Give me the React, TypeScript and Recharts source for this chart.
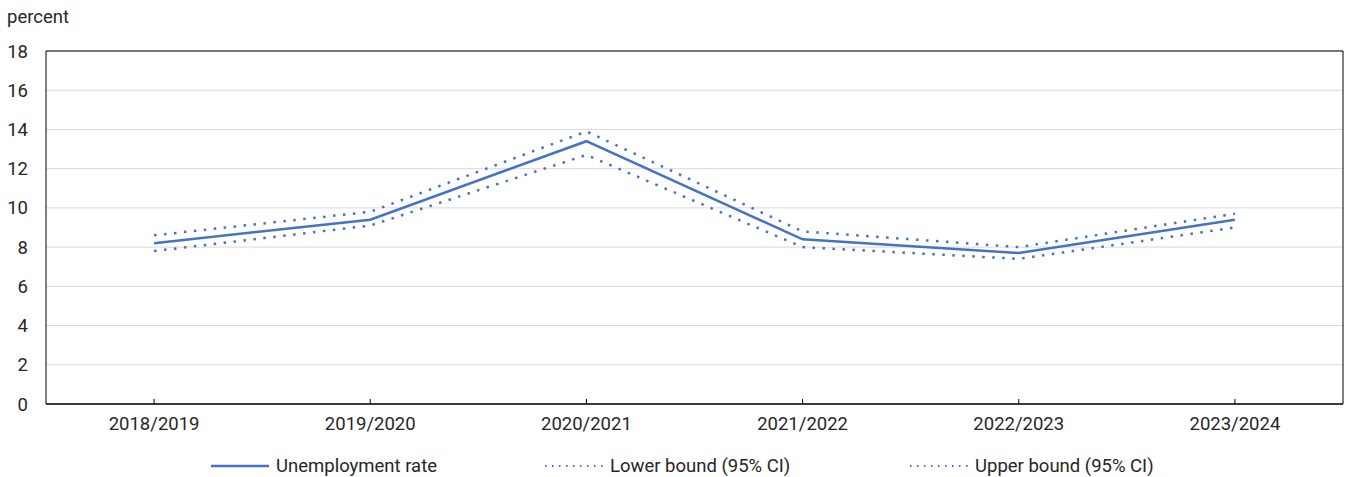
import React from 'react';
import { LineChart, Line, XAxis, YAxis, CartesianGrid, ReferenceArea } from 'recharts';

const categories = ['2018/2019', '2019/2020', '2020/2021', '2021/2022', '2022/2023', '2023/2024'];
const unemployment = [8.2, 9.4, 13.4, 8.4, 7.7, 9.4];
const lowerBound = [7.8, 9.1, 12.7, 8.0, 7.4, 9.0];
const upperBound = [8.6, 9.8, 13.9, 8.8, 8.0, 9.7];
const yTicks = [0, 2, 4, 6, 8, 10, 12, 14, 16, 18];

const data = categories.map((name, i) => ({
  name,
  rate: unemployment[i],
  lower: lowerBound[i],
  upper: upperBound[i],
}));

const BLUE = '#4472C4';
const FONT = 'Roboto, "Noto Sans", sans-serif';
const TEXT = '#262626';
const FS = 18.5;

const XTick = (props: any) => {
  const { x, y, payload } = props;
  return (
    <g>
      <line x1={x} x2={x} y1={y - 12} y2={y - 17} stroke="#000" strokeWidth={1} />
      <text x={x} y={y} dy="0.75em" textAnchor="middle" fill={TEXT} fontSize={FS} fontFamily={FONT}>
        {payload.value}
      </text>
    </g>
  );
};

const legendItems = [
  { label: 'Unemployment rate', left: 211, dash: undefined },
  { label: 'Lower bound (95% CI)', left: 545, dash: '1.5 5.5' },
  { label: 'Upper bound (95% CI)', left: 910, dash: '1.5 5.5' },
];

export default function App() {
  return (
    <div style={{ position: 'absolute', left: 0, top: 0, width: 1346, height: 477, background: '#fff', fontFamily: FONT }}>
      <div style={{ position: 'absolute', left: 7, top: 6, fontSize: FS, color: TEXT }}>percent</div>
      <LineChart width={1346} height={477} data={data} margin={{ top: 51, right: 3, bottom: 43, left: 6 }}>
        <CartesianGrid horizontal vertical={false} stroke="#d9d9d9" />
        <XAxis
          dataKey="name"
          scale="band"
          axisLine={{ stroke: '#000' }}
          tickLine={false}
          tickSize={0}
          tickMargin={12}
          height={30}
          tick={<XTick />}
          interval={0}
        />
        <YAxis
          domain={[0, 18]}
          ticks={yTicks}
          width={40}
          axisLine={false}
          tickLine={false}
          tickSize={0}
          tickMargin={18}
          tick={{ fontSize: FS, fill: TEXT, fontFamily: FONT }}
        />
        <ReferenceArea y1={0} y2={18} fill="none" stroke="#000" strokeWidth={1} />
        <Line dataKey="upper" stroke={BLUE} strokeWidth={2.5} strokeDasharray="2.5 7.5" dot={false} isAnimationActive={false} />
        <Line dataKey="lower" stroke={BLUE} strokeWidth={2.5} strokeDasharray="2.5 7.5" dot={false} isAnimationActive={false} />
        <Line dataKey="rate" stroke={BLUE} strokeWidth={2.5} dot={false} isAnimationActive={false} />
      </LineChart>
      {legendItems.map((it) => (
        <div key={it.label} style={{ position: 'absolute', left: it.left, top: 455, height: 22, display: 'flex', alignItems: 'center' }}>
          <svg width={58} height={6} style={{ marginRight: 7 }}>
            <line x1={0} x2={58} y1={3} y2={3} stroke={BLUE} strokeWidth={it.dash ? 2 : 2.5} strokeDasharray={it.dash} />
          </svg>
          <span style={{ fontSize: FS, color: TEXT, whiteSpace: 'nowrap' }}>{it.label}</span>
        </div>
      ))}
    </div>
  );
}
